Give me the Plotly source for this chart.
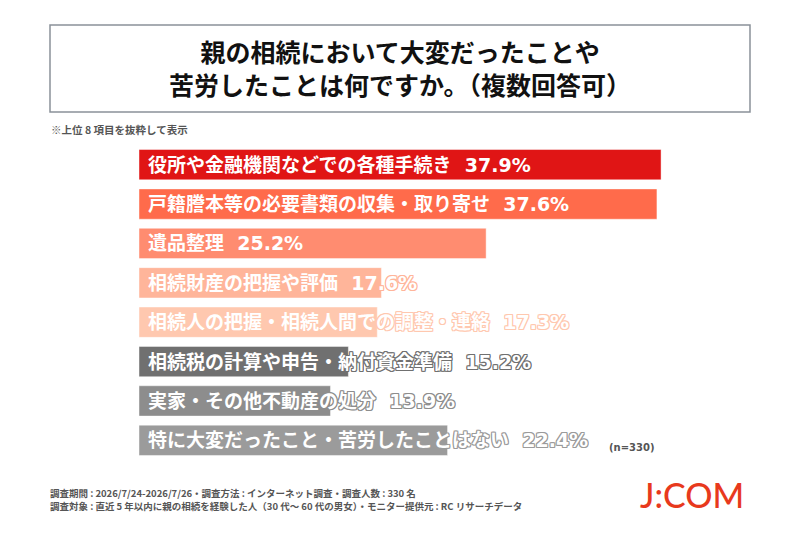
import plotly.graph_objects as go

categories = [
    "役所や金融機関などでの各種手続き",
    "戸籍謄本等の必要書類の収集・取り寄せ",
    "遺品整理",
    "相続財産の把握や評価",
    "相続人の把握・相続人間での調整・連絡",
    "相続税の計算や申告・納付資金準備",
    "実家・その他不動産の処分",
    "特に大変だったこと・苦労したことはない",
]
values = [37.9, 37.6, 25.2, 17.6, 17.3, 15.2, 13.9, 22.4]
colors = ["#E01515", "#FF6B4B", "#FF8C70", "#FFB59A", "#FFC8AF",
          "#707070", "#8D8D8D", "#9B9B9B"]

title_text = "親の相続において大変だったことや<br>苦労したことは何ですか。（複数回答可）"
note_text = "※上位 8 項目を抜粋して表示"
n_text = "(n=330)"
footer_lines = [
    "調査期間 : 2026/7/24-2026/7/26・調査方法 : インターネット調査・調査人数 : 330 名",
    "調査対象 : 直近 5 年以内に親の相続を経験した人（30 代～ 60 代の男女）・モニター提供元 : RC リサーチデータ",
]
logo_text = "J:COM"

W, H = 800, 535
L, R, T, B = 139, 110, 145, 75
PW, PH = W - L - R, H - T - B


def px(x):
    return (x - L) / PW


def py(y):
    return (H - B - y) / PH


fig = go.Figure()
fig.add_trace(go.Bar(
    y=categories, x=values, orientation="h",
    marker=dict(color=colors, line=dict(color="rgba(255,255,255,0.45)", width=1)),
    width=0.77, hoverinfo="skip", showlegend=False,
))

annotations = []
for cat, v, c in zip(categories, values, colors):
    sh = (f"1px 0 0 {c}, -1px 0 0 {c}, 0 1px 0 {c}, 0 -1px 0 {c}, "
          f"1px 1px 0 {c}, -1px -1px 0 {c}, 1px -1px 0 {c}, -1px 1px 0 {c}")
    annotations.append(dict(
        x=0, y=cat, xref="x", yref="y", xanchor="left", yanchor="middle",
        xshift=7, showarrow=False,
        text=f"{cat}\u00a0\u00a0{v}%",
        font=dict(family="DejaVu Sans, Noto Sans CJK JP", size=19, color="white",
                  weight="bold", shadow=sh),
    ))

annotations += [
    dict(x=px(400), y=py(67), xref="paper", yref="paper", xanchor="center", yanchor="middle",
         showarrow=False, text=title_text,
         font=dict(family="Noto Sans CJK JP", size=25, color="#111111", weight="bold")),
    dict(x=px(49), y=py(130), xref="paper", yref="paper", xanchor="left", yanchor="middle",
         showarrow=False, text=note_text,
         font=dict(family="Noto Sans CJK JP", size=10.5, color="#555555", weight="bold")),
    dict(x=px(657), y=py(447), xref="paper", yref="paper", xanchor="right", yanchor="middle",
         showarrow=False, text=n_text,
         font=dict(family="DejaVu Sans, Noto Sans CJK JP", size=10, color="#555555", weight="bold")),
    dict(x=px(692), y=py(494), xref="paper", yref="paper", xanchor="center", yanchor="middle",
         showarrow=False, text=logo_text,
         font=dict(family="Lato", size=34, color="#E8391D", weight=500)),
]
for i, line in enumerate(footer_lines):
    annotations.append(dict(
        x=px(48), y=py(492.5 + 13.5 * i), xref="paper", yref="paper",
        xanchor="left", yanchor="middle", showarrow=False, text=line,
        font=dict(family="Noto Sans CJK JP", size=9.5, color="#555555", weight="bold")))

fig.update_layout(
    width=W, height=H,
    margin=dict(l=L, r=R, t=T, b=B),
    paper_bgcolor="white", plot_bgcolor="white",
    xaxis=dict(range=[0, 40], visible=False, fixedrange=True),
    yaxis=dict(categoryorder="array", categoryarray=categories, autorange="reversed",
               visible=False, fixedrange=True),
    annotations=annotations,
    shapes=[dict(type="rect", xref="paper", yref="paper",
                 x0=px(50), x1=px(750), y0=py(25), y1=py(112),
                 line=dict(color="#8A9199", width=1.5), fillcolor="rgba(0,0,0,0)")],
)

fig.write_html("out.html", config={"displayModeBar": False},
               post_script="document.body.style.margin='0';document.body.style.overflow='hidden';")
